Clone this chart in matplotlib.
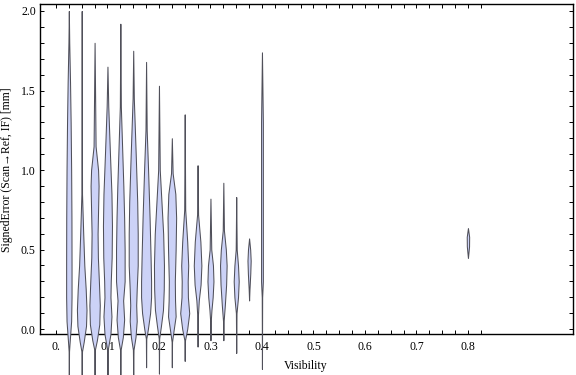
import numpy as np
import matplotlib
matplotlib.use("Agg")
import matplotlib.pyplot as plt

plt.rcParams['font.family'] = ['Liberation Serif', 'DejaVu Serif']

# violin positions (visibility bins)
positions = [0.025, 0.05, 0.075, 0.1, 0.125, 0.15, 0.175, 0.2, 0.225,
             0.25, 0.275, 0.3, 0.325, 0.35, 0.375, 0.4, 0.8]

# density profiles: signed error levels [mm] and
# relative density (half width) at each level, top to bottom
levels = [
    [2.0, 1.8, 1.55, 1.3, 1.0, 0.7, 0.4, 0.2, 0.05, -0.1, -0.14, -0.3],
    [2.0, 0.85, 0.6, 0.4, 0.25, 0.12, 0.02, -0.08, -0.14, -0.3],
    [1.8, 1.15, 1.0, 0.9, 0.75, 0.6, 0.45, 0.3, 0.15, 0.03, -0.07, -0.13, -0.3],
    [1.65, 1.4, 1.1, 0.85, 0.65, 0.45, 0.3, 0.2, 0.08, -0.03, -0.13, -0.3],
    [1.92, 1.4, 1.1, 0.9, 0.7, 0.5, 0.3, 0.18, 0.06, -0.05, -0.13, -0.3],
    [1.75, 1.45, 1.1, 0.8, 0.6, 0.4, 0.25, 0.15, 0.05, -0.05, -0.13, -0.3],
    [1.68, 1.25, 1.0, 0.7, 0.45, 0.3, 0.2, 0.1, 0.0, -0.06, -0.24],
    [1.53, 1.0, 0.8, 0.6, 0.4, 0.25, 0.12, 0.02, -0.06, -0.28],
    [1.2, 0.98, 0.85, 0.7, 0.5, 0.3, 0.18, 0.08, -0.02, -0.08, -0.24],
    [1.35, 0.75, 0.55, 0.4, 0.3, 0.2, 0.1, 0.0, -0.07, -0.2],
    [1.03, 0.72, 0.55, 0.4, 0.28, 0.18, 0.08, -0.11],
    [0.82, 0.5, 0.4, 0.3, 0.2, 0.12, 0.05, -0.07],
    [0.92, 0.62, 0.5, 0.4, 0.28, 0.15, 0.05, -0.07],
    [0.83, 0.5, 0.4, 0.3, 0.2, 0.1, -0.15],
    [0.57, 0.5, 0.43, 0.35, 0.25, 0.18],
    [1.74, 1.3, 0.3, 0.2, -0.25],
    [0.635, 0.58, 0.52, 0.447],
]
density = [
    [0, 0.4, 1.2, 1.8, 2.3, 2.6, 2.7, 2.7, 2.3, 0.6, 0.2, 0],
    [0, 0.3, 1.5, 2.6, 4.0, 4.8, 4.3, 2.0, 0.3, 0],
    [0, 1.0, 3.5, 4.0, 3.5, 3.0, 3.3, 4.3, 5.2, 4.7, 2.3, 0.3, 0],
    [0, 0.8, 2.5, 4.0, 4.5, 4.2, 3.3, 3.0, 4.0, 3.0, 0.3, 0],
    [0, 0.5, 2.0, 3.0, 3.8, 4.3, 4.3, 2.8, 3.8, 2.5, 0.3, 0],
    [0, 0.6, 2.5, 4.0, 4.5, 4.5, 3.5, 3.0, 3.5, 2.3, 0.3, 0],
    [0, 0.6, 2.0, 3.5, 4.5, 5.0, 5.0, 4.0, 1.8, 0.2, 0],
    [0, 0.8, 2.5, 4.2, 5.0, 4.8, 4.0, 2.0, 0.2, 0],
    [0, 0.8, 3.5, 4.3, 3.8, 3.0, 3.2, 3.8, 1.5, 0.2, 0],
    [0, 0.5, 2.5, 3.5, 3.0, 3.2, 4.5, 2.5, 0.3, 0],
    [0, 0.5, 2.8, 3.8, 3.0, 1.2, 0.3, 0],
    [0, 0.8, 2.5, 3.0, 2.2, 1.0, 0.3, 0],
    [0, 0.6, 2.5, 3.3, 2.8, 1.5, 0.3, 0],
    [0, 0.5, 1.8, 2.5, 1.8, 0.3, 0],
    [0, 1.1, 1.6, 1.2, 0.4, 0],
    [0, 0.9, 0.9, 0.2, 0],
    [0, 1.2, 1.1, 0],
]

xticks = [0.0, 0.1, 0.2, 0.3, 0.4, 0.5, 0.6, 0.7, 0.8]
xtick_labels = ["0.", "0.1", "0.2", "0.3", "0.4", "0.5", "0.6", "0.7", "0.8"]
yticks = [0.0, 0.5, 1.0, 1.5, 2.0]
ytick_labels = ["0.0", "0.5", "1.0", "1.5", "2.0"]

fig = plt.figure(figsize=(5.76, 3.75), dpi=100)
ax = fig.add_axes([40 / 576, 41 / 375, 533 / 576, 330 / 375])

# width scale: one density unit ~ one pixel
scale = 0.1 / 51.5
for x, ys, ws in zip(positions, levels, density):
    ys = np.array(ys)
    ws = np.array(ws) * scale
    ax.fill_betweenx(ys, x - ws, x + ws, facecolor='#ccd2f7',
                     edgecolor='#50505a', linewidth=0.75, clip_on=False,
                     zorder=3)

ax.set_xlim(-0.031, 1.004)
ax.set_ylim(-0.031, 2.044)

ax.set_xticks(xticks, labels=xtick_labels)
ax.set_xticks(np.arange(0, 0.826, 0.025), minor=True)
ax.set_yticks(yticks, labels=ytick_labels)
ax.set_yticks(np.arange(0, 2.01, 0.1), minor=True)
ax.tick_params(which='both', direction='in', top=True, right=True,
               length=3, width=0.7, labelsize=8.5, colors='black')
ax.tick_params(axis='x', pad=5)
ax.tick_params(axis='y', pad=3)
for s in ax.spines.values():
    s.set_linewidth(1.0)

ax.set_xlabel("Visibility", fontsize=8.5)
ax.xaxis.set_label_coords(0.499, -0.078)
ax.set_ylabel("SignedError (Scan\u2192Ref, IF) [mm]", fontsize=8.5)
ax.yaxis.set_label_coords(-0.05, 0.497)

fig.savefig("out.png", dpi=100)
